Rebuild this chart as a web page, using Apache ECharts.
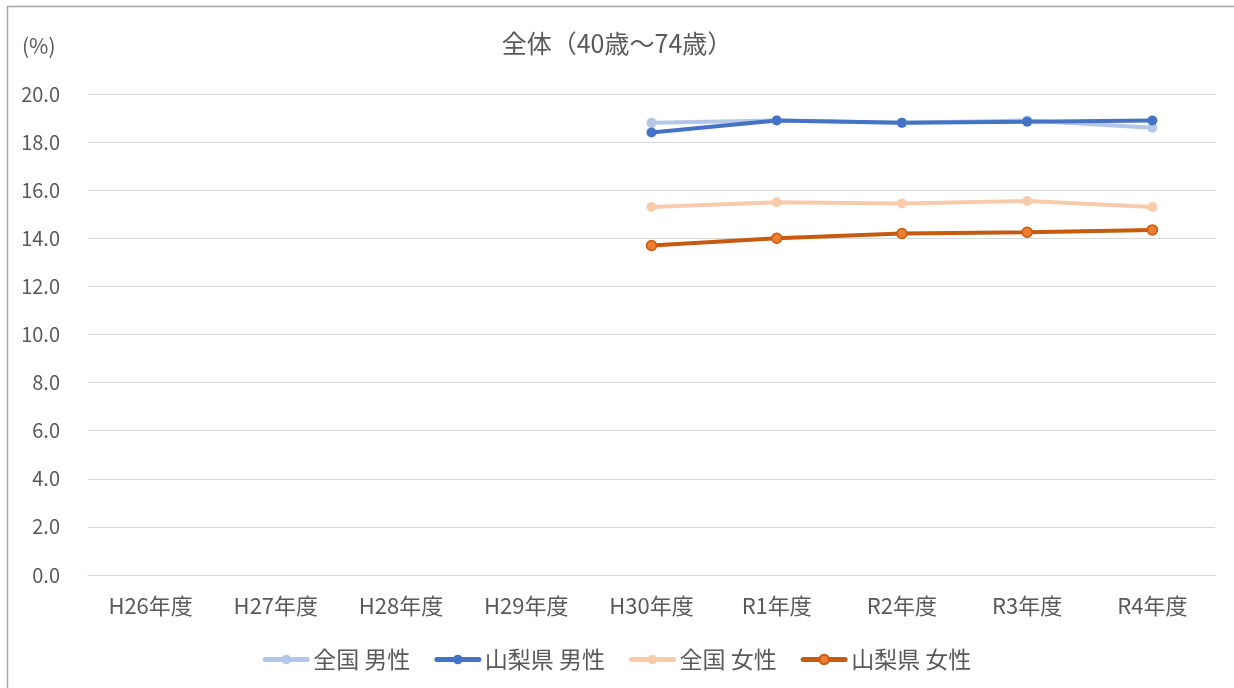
<!DOCTYPE html>
<html>
<head>
<meta charset="utf-8">
<script src="https://cdn.jsdelivr.net/npm/echarts@6/dist/echarts.min.js"></script>
<style>
  html, body { margin: 0; padding: 0; background: #fff; }
  #chart { width: 1234px; height: 688px; }
</style>
</head>
<body>
<div id="chart"></div>
<script>
// 年度
var years = ['H26年度', 'H27年度', 'H28年度', 'H29年度', 'H30年度', 'R1年度', 'R2年度', 'R3年度', 'R4年度'];
// 値 (%)  H26〜H29 はデータなし
var zenkokuMale = [null, null, null, null, 18.8, 18.9, 18.8, 18.9, 18.6];
var yamanashiMale = [null, null, null, null, 18.4, 18.9, 18.8, 18.85, 18.9];
var zenkokuFemale = [null, null, null, null, 15.3, 15.5, 15.45, 15.55, 15.3];
var yamanashiFemale = [null, null, null, null, 13.7, 14.0, 14.2, 14.25, 14.35];
var seriesNames = ['全国 男性', '山梨県 男性', '全国 女性', '山梨県 女性'];

var font = '"Noto Sans CJK JP", "Noto Sans", sans-serif';
var chart = echarts.init(document.getElementById('chart'));

function lineSeries(name, data, lineColor, dotColor, dotBorder) {
  return {
    name: name,
    type: 'line',
    data: data,
    symbol: 'circle',
    symbolSize: 10,
    lineStyle: { color: lineColor, width: 4 },
    itemStyle: { color: dotColor, borderColor: dotBorder, borderWidth: dotBorder ? 1.5 : 0 },
    emphasis: { disabled: true }
  };
}

var option = {
  animation: false,
  backgroundColor: '#fff',
  title: {
    text: '全体（40歳～74歳）',
    left: 'center',
    top: 26,
    textStyle: { fontFamily: font, fontSize: 25, fontWeight: 'normal', color: '#595959' }
  },
  legend: {
    bottom: 12,
    left: 'center',
    itemWidth: 42,
    itemHeight: 12,
    itemGap: 24,
    data: seriesNames,
    lineStyle: { width: 5, cap: 'round' },
    textStyle: { fontFamily: font, fontSize: 23, color: '#595959', padding: [0, 0, 0, 1] }
  },
  graphic: [
    {
      type: 'text',
      left: 22,
      top: 36,
      style: { text: '(%)', font: '21px ' + font, fill: '#595959' }
    },
    {
      type: 'polyline',
      shape: { points: [[7.5, 700], [7.5, 6.5], [1240, 6.5]] },
      style: { stroke: '#a6a6a6', lineWidth: 1.5, fill: null }
    }
  ],
  grid: { left: 88, right: 19, top: 94, bottom: 113 },
  xAxis: {
    type: 'category',
    data: years,
    boundaryGap: true,
    axisLine: { show: true, lineStyle: { color: '#d9d9d9', width: 1 } },
    axisTick: { show: false },
    axisLabel: { fontFamily: font, fontSize: 22, color: '#595959', margin: 20 }
  },
  yAxis: {
    type: 'value',
    min: 0,
    max: 20,
    interval: 2,
    axisLine: { show: false },
    axisTick: { show: false },
    splitLine: { lineStyle: { color: '#d9d9d9', width: 1 } },
    axisLabel: {
      fontFamily: font, fontSize: 20, color: '#595959', margin: 28,
      formatter: function (v) { return v.toFixed(1); }
    }
  },
  series: [
    lineSeries(seriesNames[0], zenkokuMale, '#b4c7e7', '#b4c7e7'),
    lineSeries(seriesNames[1], yamanashiMale, '#4472c4', '#4472c4'),
    lineSeries(seriesNames[2], zenkokuFemale, '#f8cbad', '#f8cbad'),
    lineSeries(seriesNames[3], yamanashiFemale, '#c55a11', '#ed7d31', '#c55a11')
  ]
};

chart.setOption(option);
</script>
</body>
</html>
